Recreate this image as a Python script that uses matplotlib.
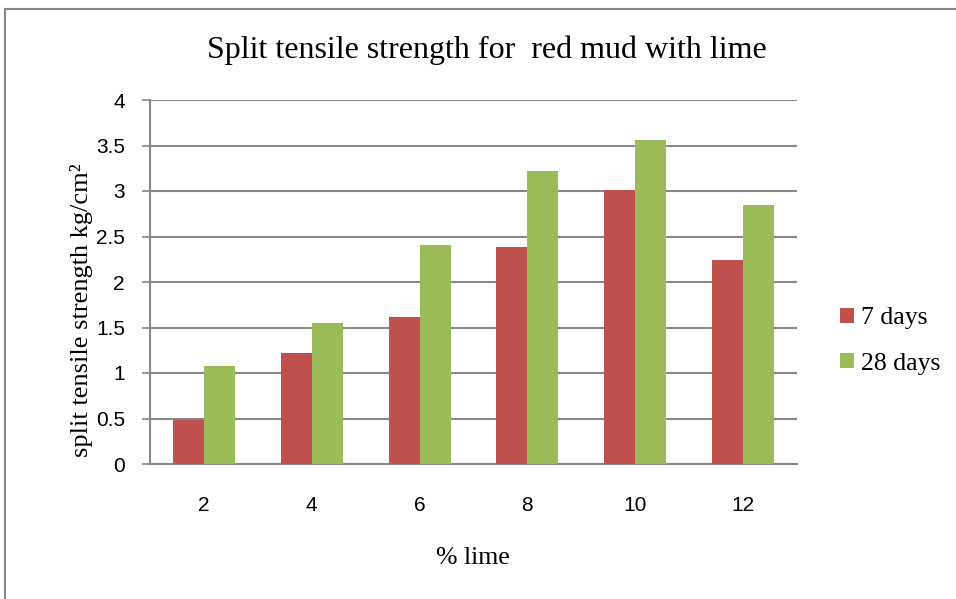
import numpy as np
import matplotlib.pyplot as plt
from matplotlib.lines import Line2D

# data
lime = ['2', '4', '6', '8', '10', '12']
days7 = [0.48, 1.22, 1.62, 2.38, 3.01, 2.24]
days28 = [1.08, 1.55, 2.41, 3.22, 3.56, 2.85]
series = ['7 days', '28 days']
yticks = [0, 0.5, 1, 1.5, 2, 2.5, 3, 3.5, 4]
ytick_labels = ['0', '0.5', '1', '1.5', '2', '2.5', '3', '3.5', '4']

red = '#C0504D'
green = '#9BBB59'
grey = '#878787'
serif = ['Liberation Serif', 'DejaVu Serif']
sans = ['Liberation Sans', 'DejaVu Sans']

W, H = 956, 599
fig = plt.figure(figsize=(W/100, H/100), dpi=100)
ax = fig.add_axes([150/W, 1 - 464/H, (797-150)/W, (464-100)/H])

x = np.arange(len(lime))
w = 0.2875
ax.bar(x - w/2, days7, w, color=red, label=series[0], zorder=3)
ax.bar(x + w/2, days28, w, color=green, label=series[1], zorder=3)

ax.set_xlim(-0.5, len(lime) - 0.5)
ax.set_ylim(0, 4)
ax.set_yticks(yticks)
ax.set_yticklabels(ytick_labels, family=sans, fontsize=15)
ax.set_xticks(x)
ax.set_xticklabels(lime, family=sans, fontsize=15)
ax.tick_params(axis='x', length=0, pad=23)
ax.tick_params(axis='y', length=6, width=1.2, color=grey, pad=12)
ax.yaxis.grid(True, color=grey, linewidth=1.5, zorder=0)
ax.set_axisbelow(True)
for s in ['top', 'right']:
    ax.spines[s].set_visible(False)
for s in ['left', 'bottom']:
    ax.spines[s].set_color(grey)
    ax.spines[s].set_linewidth(1.5)

fig.text(82/W, 1 - 310/H, 'split tensile strength kg/cm²', family=serif,
         fontsize=19, rotation=90, ha='center', va='center')
fig.text(473/W, 1 - 558/H, '% lime', family=serif, fontsize=18.5,
         ha='center', va='center')
fig.text(487/W, 1 - 50/H, 'Split tensile strength for  red mud with lime',
         family=serif, fontsize=23, ha='center', va='center')

leg = fig.legend(loc='center left', bbox_to_anchor=(817/W, 1 - 341/H),
                 frameon=False, prop={'family': serif, 'size': 18.5},
                 handlelength=0.55, handleheight=0.55, handletextpad=0.25,
                 labelspacing=0.9)

# outer chart border (cut off at right and bottom)
fig.add_artist(Line2D([5/W, 5/W], [0, 1 - 9/H], color=grey, linewidth=1.5))
fig.add_artist(Line2D([5/W, 1], [1 - 9/H, 1 - 9/H], color=grey, linewidth=1.5))

fig.savefig('out.png', dpi=100)
